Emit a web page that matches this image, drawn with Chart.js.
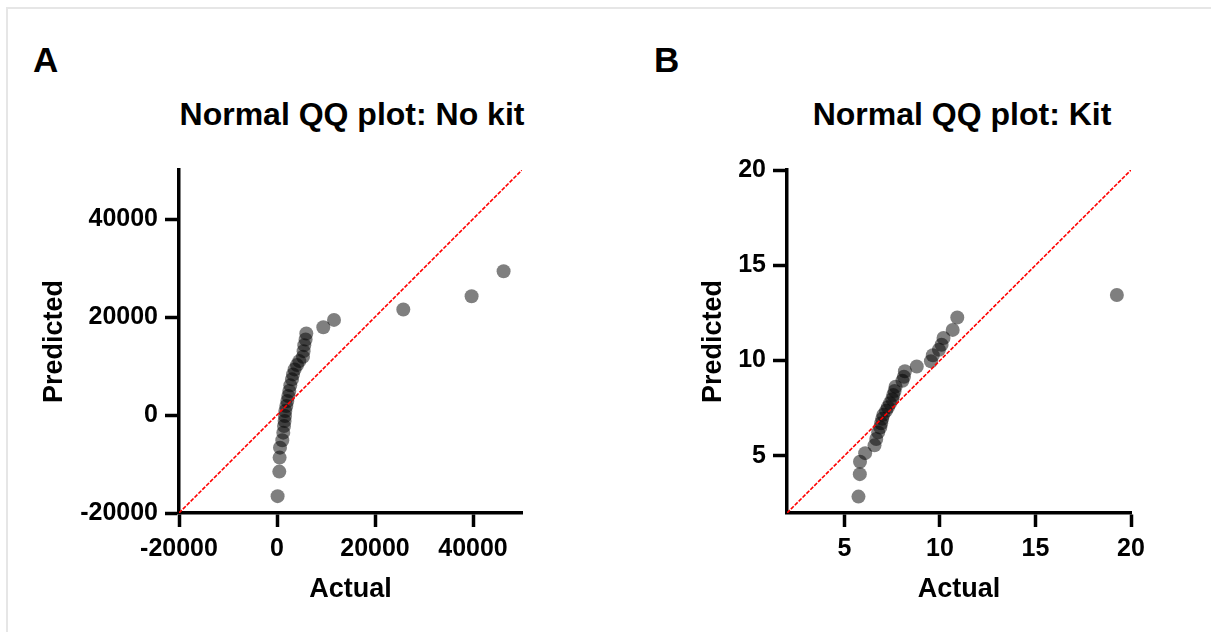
<!DOCTYPE html>
<html>
<head>
<meta charset="utf-8" />
<title>Normal QQ plots</title>
<script src="https://cdn.jsdelivr.net/npm/chart.js"></script>
<style>
  body { margin:0; padding:0; width:1211px; height:632px; overflow:hidden; background:#fff; position:relative;
         font-family:"Liberation Sans", Arial, sans-serif; }
  #frame { position:absolute; left:6px; top:7px; width:1210px; height:630px;
           border-top:2px solid #e6e6e6; border-left:2px solid #e6e6e6; }
  .wrap { position:absolute; top:0; height:632px; }
  .letter { position:absolute; font-weight:bold; font-size:35px; line-height:35px; color:#000; }
  .title { position:absolute; font-weight:bold; font-size:32px; line-height:32px; color:#000;
           white-space:nowrap; transform:translateX(-50%); }
</style>
</head>
<body>
<div id="frame"></div>
<div class="letter" style="left:33px;top:42px;">A</div>
<div class="letter" style="left:654px;top:42px;">B</div>
<div class="title" style="left:352px;top:98px;">Normal QQ plot: No kit</div>
<div class="title" style="left:962px;top:98px;">Normal QQ plot: Kit</div>
<div class="wrap" style="left:0;width:560px;"><canvas id="chartA"></canvas></div>
<div class="wrap" style="left:600px;width:600px;"><canvas id="chartB"></canvas></div>
<script>
// panel A: no kit
const actualA = [46245, 39714, 25776, 11633, 9449, 5980, 5837, 5571, 5429, 5306, 4551, 4082, 3592, 3265, 3061,
  2714, 2510, 2306, 2102, 1898, 1694, 1633, 1551, 1429, 1286, 1082, 612, 531, 469, 122];
const predictedA = [29328, 24236, 21527, 19409, 17923, 16640, 15417, 14257, 13035, 11874, 10998, 10183, 9307, 8289, 7271,
  6049, 4888, 3870, 2851, 1833, 815, -204, -1222, -2240, -3605, -5153, -6659, -8696, -11549, -16564];
const rangeA = [-20000, 50000];
const ticksA = [-20000, 0, 20000, 40000];

// panel B: kit
const actualB = [19.26, 10.91, 10.67, 10.19, 10.09, 9.95, 9.63, 9.53, 8.79, 8.17, 8.12, 8.04, 7.68, 7.63, 7.56,
  7.51, 7.39, 7.28, 7.18, 7.04, 6.98, 6.93, 6.88, 6.77, 6.67, 6.58, 6.09, 5.82, 5.81, 5.74];
const predictedB = [13.44, 12.26, 11.61, 11.18, 10.83, 10.57, 10.28, 9.96, 9.69, 9.44, 9.15, 8.94, 8.63, 8.40, 8.19,
  7.97, 7.76, 7.55, 7.36, 7.15, 6.94, 6.71, 6.49, 6.23, 5.88, 5.55, 5.14, 4.69, 4.04, 2.86];
const rangeB = [2, 20];
const ticksB = [5, 10, 15, 20];

const font = 'Liberation Sans, Arial, sans-serif';

function axis(range, tickVals, titleText, fixW, fixH) {
  return {
    type: 'linear',
    min: range[0],
    max: range[1],
    border: { display: true, color: '#000', width: 3.5 },
    grid: { drawOnChartArea: false, drawTicks: true, tickLength: 14, tickWidth: 3.5, tickColor: '#000' },
    ticks: { autoSkip: false, color: '#000', padding: 7, maxRotation: 0,
             font: { family: font, size: 25, weight: 'bold' },
             callback: v => String(v) },
    afterBuildTicks: s => { s.ticks = tickVals.map(v => ({ value: v })); },
    title: { display: true, text: titleText, color: '#000', padding: 0,
             font: { family: font, size: 27, weight: 'bold' } },
    afterFit: s => { if (fixW) s.width = fixW; if (fixH) s.height = fixH; }
  };
}

function qq(id, xs, ys, range, tickVals, padL, yWidth, padR) {
  const pts = xs.map((x, i) => ({ x: x, y: ys[i] }));
  return new Chart(document.getElementById(id), {
    type: 'scatter',
    data: {
      datasets: [
        { type: 'line', data: [{ x: range[0], y: range[0] }, { x: range[1], y: range[1] }],
          borderColor: '#ff0000', borderWidth: 1.6, borderDash: [4, 1.5], pointRadius: 0, fill: false },
        { data: pts, backgroundColor: 'rgba(0,0,0,0.5)', borderWidth: 0, pointRadius: 7, pointHoverRadius: 7 }
      ]
    },
    options: {
      responsive: true,
      maintainAspectRatio: false,
      animation: false,
      layout: { padding: { left: padL, right: padR, top: 170, bottom: 26 } },
      plugins: { legend: { display: false }, tooltip: { enabled: false } },
      scales: {
        x: axis(range, tickVals, 'Actual', null, 93),
        y: axis(range, tickVals, 'Predicted', yWidth, null)
      }
    }
  });
}

qq('chartA', actualA, predictedA, rangeA, ticksA, 38, 141, 38);
qq('chartB', actualB, predictedB, rangeB, ticksB, 97, 90, 69);
</script>
</body>
</html>
